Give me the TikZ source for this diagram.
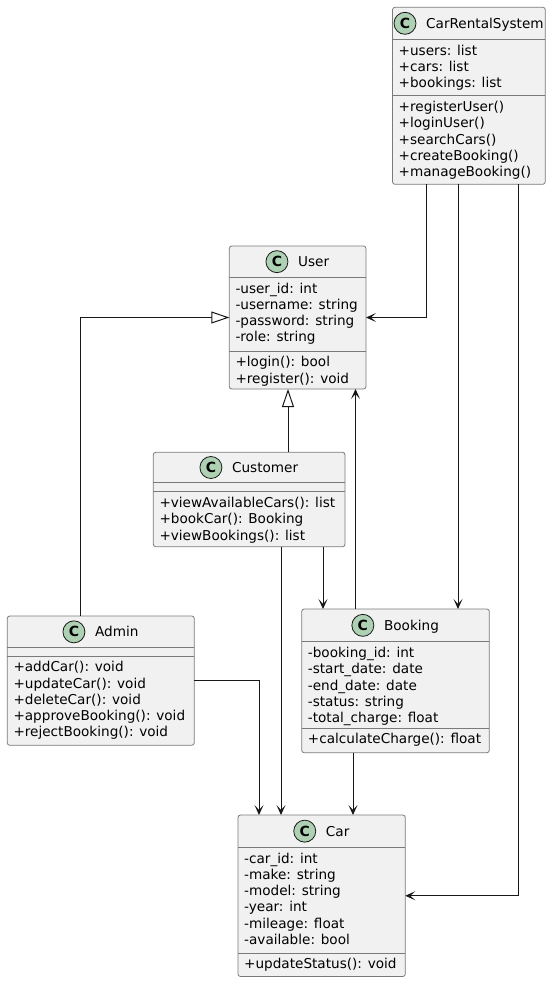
\documentclass[tikz,border=0pt]{standalone}
\usepackage{fontspec}
\setmainfont{DejaVu Sans}
\usetikzlibrary{arrows.meta}
\definecolor{boxfill}{HTML}{F1F1F1}
\definecolor{ink}{HTML}{181818}
\definecolor{boxline}{HTML}{7A7A7A}
\definecolor{iconfill}{HTML}{ADD1B2}
\newcommand\mstrut{\rule{0pt}{13pt}}
% name, left, top, right, bottom, sep1, sep2, title
\newcommand\classbox[8]{%
  \node[clsbox, minimum width={#4-#2}, minimum height={#5-#3}, anchor=north west] (#1) at (#2,#3) {};
  \draw[sepline] (#2,#6) -- (#4,#6);
  \draw[sepline] (#2,#7) -- (#4,#7);
  \node[clstitle, anchor=base] (#1-t) at ({(#2+#4)/2+16},{(#3+#6)/2+5}) {#8};
  \node[cicon] (#1-c) at ([shift={(-21pt,5pt)}]#1-t.base west) {C};
}
% name, left, sep, text
\newcommand\members[4]{%
  \node[memb] (#1) at ({#2+6},{#3+2.5}) {\mstrut#4};
}
\begin{document}
\begin{tikzpicture}[x=1pt,y=-1pt,
  clsbox/.style={rectangle, draw=boxline, line width=0.8pt, fill=boxfill, rounded corners=2.5pt, inner sep=0pt, outer sep=0pt},
  sepline/.style={draw=boxline, line width=0.8pt},
  clstitle/.style={font=\fontsize{13.6}{16.3}\selectfont, inner sep=0pt},
  cicon/.style={circle, draw=ink, line width=0.8pt, fill=iconfill, minimum size=22pt, inner sep=0pt, font=\fontsize{14}{14}\selectfont\bfseries},
  memb/.style={font=\fontsize{13.6}{16.3}\selectfont, align=left, inner sep=0pt, anchor=north west},
  link/.style={draw=ink, line width=1pt},
  assoc/.style={link, -{Stealth[length=10pt,width=9pt,inset=5pt]}},
  inherit/.style={link, -{Triangle[open,length=18pt,width=12pt,fill=white]}}
]
\useasboundingbox[fill=white] (0,0) rectangle (551,982);

% classes
\classbox{crs}{392.5}{7.3}{545.3}{184.3}{39.3}{95.7}{CarRentalSystem}
\members{crs-a}{392.5}{39.3}{+users: list\\+cars: list\\+bookings: list}
\members{crs-m}{392.5}{95.7}{+registerUser()\\+loginUser()\\+searchCars()\\+createBooking()\\+manageBooking()}

\classbox{user}{229.3}{246}{366}{389}{277.3}{351}{User}
\members{user-a}{229.3}{277.3}{-user\_id: int\\-username: string\\-password: string\\-role: string}
\members{user-m}{229.3}{351}{+login(): bool\\+register(): void}

\classbox{cust}{153.3}{452.3}{345}{546.7}{482.7}{491.7}{Customer}
\members{cust-m}{153.3}{491.7}{+viewAvailableCars(): list\\+bookCar(): Booking\\+viewBookings(): list}

\classbox{admin}{7.3}{616}{194.3}{745.3}{647.7}{656}{Admin}
\members{admin-m}{7.3}{656}{+addCar(): void\\+updateCar(): void\\+deleteCar(): void\\+approveBooking(): void\\+rejectBooking(): void}

\classbox{book}{301.7}{609}{489.3}{752.7}{641.7}{728}{Booking}
\members{book-a}{301.7}{641.7}{-booking\_id: int\\-start\_date: date\\-end\_date: date\\-status: string\\-total\_charge: float}
\members{book-m}{301.7}{728}{+calculateCharge(): float}

\classbox{car}{238}{815}{405.3}{976.5}{847.3}{953}{Car}
\members{car-a}{238}{847.3}{-car\_id: int\\-make: string\\-model: string\\-year: int\\-mileage: float\\-available: bool}
\members{car-m}{238}{953}{+updateStatus(): void}

% connectors
\draw[assoc] (crs.south -| 426,0) |- (user.east);
\draw[assoc] (crs.south -| 458,0) -- (book.north -| 458,0);
\draw[assoc] (crs.south -| 518,0) |- (car.east);
\draw[inherit] (admin.north -| 80,0) |- (user.west);
\draw[inherit] (cust.north -| 288,0) -- (user.south -| 288,0);
\draw[assoc] (book.north -| 355.5,0) -- (user.south -| 355.5,0);
\draw[assoc] (cust.south -| 323,0) -- (book.north -| 323,0);
\draw[assoc] (cust.south -| 281,0) -- (car.north -| 281,0);
\draw[assoc] (admin.east) -| (car.north -| 259,0);
\draw[assoc] (book.south -| 353,0) -- (car.north -| 353,0);
\end{tikzpicture}
\end{document}
